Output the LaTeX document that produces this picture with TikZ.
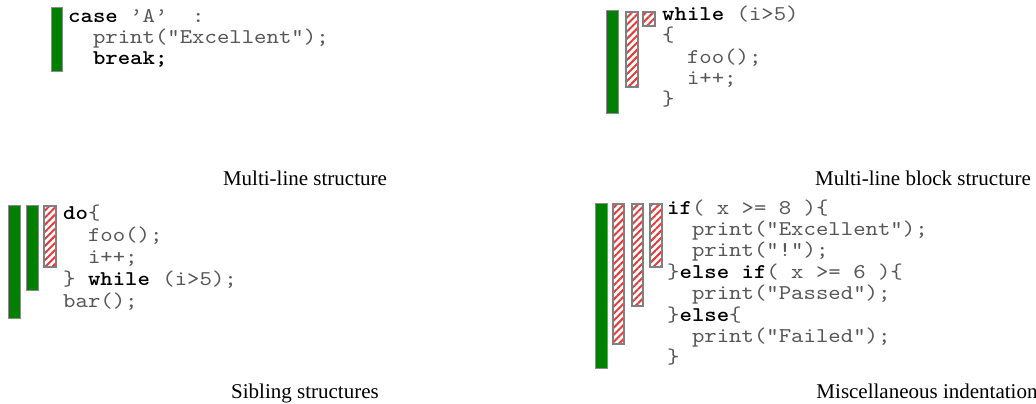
\documentclass[tikz,border=0pt]{standalone}
\usepackage{fontspec}
\usetikzlibrary{patterns.meta}
\newfontfamily\codefont{lmmono10-regular.otf}[FakeStretch=1.125,BoldFont=lmmonolt10-bold.otf]
\newfontfamily\capfont{Liberation Serif}
\definecolor{bargreen}{RGB}{0,128,0}
\definecolor{hatchred}{RGB}{228,60,60}
\newcommand\spc{\hphantom{0}}
\newcommand\kw[1]{\textcolor{black}{\bfseries #1}}
\begin{document}
\begin{tikzpicture}[x=1pt,y=-1pt,
  code/.style={anchor=mid west, inner sep=0pt, font=\codefont\fontsize{21}{25}\selectfont, text=black!66},
  caption/.style={anchor=base, inner sep=0pt, font=\capfont\fontsize{21}{25}\selectfont, text=black},
  greenbar/.style={fill=bargreen, draw=black!45, line width=1pt},
  hatchbar/.style={draw=black!50, line width=1.1pt, pattern={Lines[angle=45,distance=5pt,line width=2pt]}, pattern color=hatchred}]
\clip (0,0) rectangle (1036,404);
\fill[white] (0,0) rectangle (1036,404);

% ---------- Panel 1: Multi-line structure
\draw[greenbar] (51,8) rectangle (62,72);
\node[code] (a1) at (68,20.7) {\kw{case}\spc’A’\spc\spc:};
\node[code] (a2) at (68,41.7) {\spc\spc print("Excellent");};
\node[code] (a3) at (68,62.7) {\spc\spc\kw{break;}};
\node[caption] (capa) at (305,185) {Multi-line structure};

% ---------- Panel 2: Multi-line block structure
\draw[greenbar] (606,11) rectangle (618,113);
\draw[hatchbar] (626,12) rectangle (638,87);
\draw[hatchbar] (643,12) rectangle (655,26);
\node[code] (b1) at (662,18.5) {\kw{while}\spc(i>5)};
\node[code] (b2) at (662,39.7) {\{};
\node[code] (b3) at (662,60.9) {\spc\spc foo();};
\node[code] (b4) at (662,82.1) {\spc\spc i++;};
\node[code] (b5) at (662,103.3) {\}};
\node[caption] (capb) at (923,185) {Multi-line block structure};

% ---------- Panel 3: Sibling structures
\draw[greenbar] (8,205) rectangle (20,318);
\draw[greenbar] (26,205) rectangle (38,290);
\draw[hatchbar] (44,206) rectangle (56,267);
\node[code] (c1) at (63,217) {\kw{do}\{};
\node[code] (c2) at (63,239) {\spc\spc foo();};
\node[code] (c3) at (63,261) {\spc\spc i++;};
\node[code] (c4) at (63,283) {\}\spc\kw{while}\spc(i>5);};
\node[code] (c5) at (63,305) {bar();};
\node[caption] (capc) at (305,398) {Sibling structures};

% ---------- Panel 4: Miscellaneous indentation
\draw[greenbar] (595,203) rectangle (607,368);
\draw[hatchbar] (613,204) rectangle (624,344);
\draw[hatchbar] (632,204) rectangle (643,306);
\draw[hatchbar] (650,204) rectangle (662,267);
\node[code] (d1) at (667,212.0) {\kw{if}(\spc x\spc>=\spc8\spc)\{};
\node[code] (d2) at (667,233.4) {\spc\spc print("Excellent");};
\node[code] (d3) at (667,254.8) {\spc\spc print("!");};
\node[code] (d4) at (667,276.2) {\}\kw{else\spc if}(\spc x\spc>=\spc6\spc)\{};
\node[code] (d5) at (667,297.6) {\spc\spc print("Passed");};
\node[code] (d6) at (667,319.0) {\}\kw{else}\{};
\node[code] (d7) at (667,340.4) {\spc\spc print("Failed");};
\node[code] (d8) at (667,361.8) {\}};
\node[caption] (capd) at (927,398) {Miscellaneous indentation};
\end{tikzpicture}
\end{document}
